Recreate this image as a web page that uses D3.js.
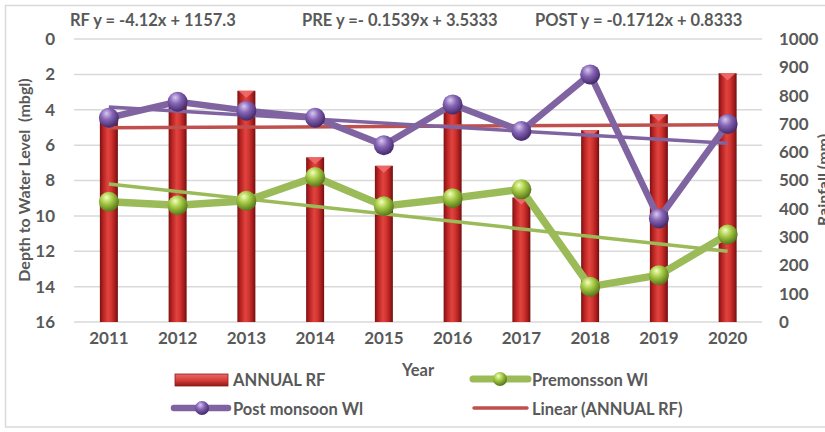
<!DOCTYPE html>
<html>
<head>
<meta charset="utf-8">
<script src="https://cdn.jsdelivr.net/npm/d3@7"></script>
<style>
  body { margin: 0; background: #fff; }
  svg text { font-family: Lato, "Open Sans", sans-serif; font-weight: bold; fill: #595959; }
</style>
</head>
<body>
<svg width="825" height="432"></svg>
<script>
// values
var years = ["2011", "2012", "2013", "2014", "2015", "2016", "2017", "2018", "2019", "2020"];
var rainfall = [720, 790, 817, 582, 552, 760, 440, 678, 734, 879];          // ANNUAL RF (mm)
var preMonsoon = [9.2, 9.4, 9.15, 7.8, 9.45, 9.0, 8.5, 14.0, 13.35, 11.05]; // mbgl
var postMonsoon = [4.45, 3.55, 4.05, 4.45, 6.0, 3.7, 5.2, 2.0, 10.15, 4.8]; // mbgl
// trendline end values (first year, last year)
var rfTrend = [686, 697];
var preTrend = [8.2, 12.0];
var postTrend = [3.85, 5.9];
var depthTicks = [0, 2, 4, 6, 8, 10, 12, 14, 16];
var rainTicks = [0, 100, 200, 300, 400, 500, 600, 700, 800, 900, 1000];
var equations = ["RF y = -4.12x + 1157.3", "PRE y =- 0.1539x + 3.5333", "POST y = -0.1712x + 0.8333"];

var svg = d3.select("svg");

var x = d3.scaleBand().domain(years).range([74.5, 762]);
var yL = d3.scaleLinear().domain([0, 16]).range([39, 322]);
var yR = d3.scaleLinear().domain([0, 1000]).range([322, 39]);
var cx = function(d) { return x(d) + x.bandwidth() / 2; };

var defs = svg.append("defs");

// bar gradient (cylinder look)
var bg = defs.append("linearGradient").attr("id", "barGrad")
    .attr("x1", "0%").attr("x2", "100%").attr("y1", "0%").attr("y2", "0%");
[["0%", "#7a1212"], ["18%", "#b82222"], ["45%", "#e0443f"], ["62%", "#d43632"], ["85%", "#a61c1c"], ["100%", "#6c1010"]]
    .forEach(function(s) { bg.append("stop").attr("offset", s[0]).attr("stop-color", s[1]); });

function sphere(id, c0, c1, c2) {
    var g = defs.append("radialGradient").attr("id", id)
        .attr("cx", "40%").attr("cy", "35%").attr("r", "65%").attr("fx", "38%").attr("fy", "28%");
    g.append("stop").attr("offset", "0%").attr("stop-color", c0);
    g.append("stop").attr("offset", "45%").attr("stop-color", c1);
    g.append("stop").attr("offset", "100%").attr("stop-color", c2);
}
sphere("purpleBall", "#d9c8f0", "#8565b5", "#44296a");
sphere("greenBall", "#f4ffc0", "#a6cb45", "#57761a");

var legGrad = defs.append("linearGradient").attr("id", "legGrad")
    .attr("x1", "0%").attr("x2", "0%").attr("y1", "0%").attr("y2", "100%");
legGrad.append("stop").attr("offset", "0%").attr("stop-color", "#e86a66");
legGrad.append("stop").attr("offset", "50%").attr("stop-color", "#d9403c");
legGrad.append("stop").attr("offset", "100%").attr("stop-color", "#8f1a1a");

// chart border
svg.append("rect")
    .attr("x", 5.5).attr("y", 5.5).attr("width", 840).attr("height", 421.5)
    .attr("fill", "none").attr("stroke", "#d9d9d9").attr("stroke-width", 1.5);

// equations
var eqX = [70, 302, 535];
svg.selectAll("text.eq").data(equations).enter().append("text")
    .attr("class", "eq")
    .attr("x", function(d, i) { return eqX[i]; })
    .attr("y", 26)
    .style("font-size", "16.5px")
    .text(function(d) { return d; });

// gridlines
svg.selectAll("line.grid").data(depthTicks).enter().append("line")
    .attr("x1", 74).attr("x2", 762)
    .attr("y1", function(d) { return yL(d); })
    .attr("y2", function(d) { return yL(d); })
    .attr("stroke", "#d9d9d9").attr("stroke-width", 1.5);

// left axis
var leftAxis = svg.append("g")
    .attr("transform", "translate(74,0)")
    .call(d3.axisLeft(yL).tickValues(depthTicks).tickSize(0).tickPadding(19));
leftAxis.select(".domain").remove();
leftAxis.selectAll("text").style("font-size", "17px").style("font-family", "Lato").attr("fill", "#595959");

// right axis
var rightAxis = svg.append("g")
    .attr("transform", "translate(762,0)")
    .call(d3.axisRight(yR).tickValues(rainTicks).tickFormat(d3.format("d")).tickSize(0).tickPadding(17));
rightAxis.select(".domain").remove();
rightAxis.selectAll("text").style("font-size", "17px").style("font-family", "Lato").attr("fill", "#595959");

// bottom axis
var bottomAxis = svg.append("g")
    .attr("transform", "translate(0,322)")
    .call(d3.axisBottom(x).tickSize(0).tickPadding(10));
bottomAxis.select(".domain").remove();
bottomAxis.selectAll("text").style("font-size", "17px").style("font-family", "Lato").attr("fill", "#595959");

// axis titles
svg.append("text")
    .attr("transform", "translate(30,180) rotate(-90)")
    .attr("text-anchor", "middle")
    .style("font-size", "16px")
    .style("white-space", "pre")
    .text("Depth to Water Level  (mbgl)");
svg.append("text")
    .attr("transform", "translate(829,180) rotate(-90)")
    .attr("text-anchor", "middle")
    .style("font-size", "16px")
    .text("Rainfall (mm)");
svg.append("text")
    .attr("x", 418).attr("y", 376)
    .attr("text-anchor", "middle")
    .style("font-size", "16.5px")
    .text("Year");

// bars
var barW = 18;
var bars = svg.append("g");
bars.selectAll("rect").data(years).enter().append("rect")
    .attr("x", function(d) { return cx(d) - barW / 2; })
    .attr("width", barW)
    .attr("y", function(d, i) { return yR(rainfall[i]); })
    .attr("height", function(d, i) { return yR(0) - yR(rainfall[i]); })
    .attr("fill", "url(#barGrad)");
bars.selectAll("path").data(years).enter().append("path")
    .attr("d", function(d, i) {
        var t = yR(rainfall[i]), c = cx(d);
        return "M" + (c - barW / 2 + 1) + "," + t + "L" + (c + barW / 2 - 1) + "," + t + "L" + c + "," + (t + 7) + "Z";
    })
    .attr("fill", "#f07070").attr("opacity", 0.85);

// rainfall trendline
var trendLine = d3.line().x(function(d) { return d[0]; }).y(function(d) { return d[1]; });
svg.append("path")
    .attr("d", trendLine([[cx(years[0]), yR(rfTrend[0])], [cx(years[years.length - 1]), yR(rfTrend[1])]]))
    .attr("stroke", "#c0504d").attr("stroke-width", 3.5).attr("fill", "none");

function series(values, trend, color, ball, width) {
    var g = svg.append("g");
    var line = d3.line()
        .x(function(d, i) { return cx(years[i]); })
        .y(function(d) { return yL(d); });
    g.append("path").datum(values)
        .attr("d", line)
        .attr("stroke", color).attr("stroke-width", width)
        .attr("stroke-linejoin", "round").attr("fill", "none");
    g.append("path")
        .attr("d", trendLine([[cx(years[0]), yL(trend[0])], [cx(years[years.length - 1]), yL(trend[1])]]))
        .attr("stroke", color).attr("stroke-width", 3.5).attr("fill", "none");
    g.selectAll("circle").data(values).enter().append("circle")
        .attr("cx", function(d, i) { return cx(years[i]); })
        .attr("cy", function(d) { return yL(d); })
        .attr("r", 10)
        .attr("fill", "url(#" + ball + ")");
}
series(preMonsoon, preTrend, "#9bbb59", "greenBall", 7.5);
series(postMonsoon, postTrend, "#8064a2", "purpleBall", 6.5);

// legend
var leg = svg.append("g");
leg.append("rect").attr("x", 175).attr("y", 374).attr("width", 53).attr("height", 12)
    .attr("fill", "url(#legGrad)").attr("stroke", "#8f1a1a").attr("stroke-width", 0.8);
leg.append("text").attr("x", 233).attr("y", 386).style("font-size", "16.5px").text("ANNUAL RF");

leg.append("line").attr("x1", 473).attr("x2", 528).attr("y1", 379).attr("y2", 379)
    .attr("stroke", "#9bbb59").attr("stroke-width", 7).attr("stroke-linecap", "round");
leg.append("circle").attr("cx", 500).attr("cy", 379).attr("r", 7).attr("fill", "url(#greenBall)");
leg.append("text").attr("x", 532).attr("y", 386).style("font-size", "16.5px").text("Premonsson Wl");

leg.append("line").attr("x1", 174).attr("x2", 228).attr("y1", 408).attr("y2", 408)
    .attr("stroke", "#8064a2").attr("stroke-width", 6.5).attr("stroke-linecap", "round");
leg.append("circle").attr("cx", 202).attr("cy", 408).attr("r", 7).attr("fill", "url(#purpleBall)");
leg.append("text").attr("x", 233).attr("y", 415).style("font-size", "16.5px").text("Post monsoon Wl");

leg.append("line").attr("x1", 474).attr("x2", 527).attr("y1", 408).attr("y2", 408)
    .attr("stroke", "#c0504d").attr("stroke-width", 3.5).attr("stroke-linecap", "round");
leg.append("text").attr("x", 532).attr("y", 415).style("font-size", "16.5px").text("Linear (ANNUAL RF)");
</script>
</body>
</html>
